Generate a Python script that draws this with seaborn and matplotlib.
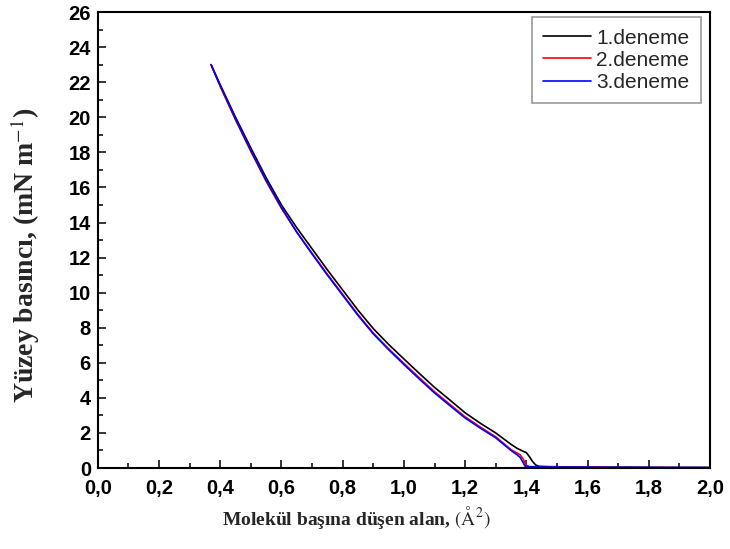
import numpy as np
import pandas as pd
import matplotlib
matplotlib.use("Agg")
import matplotlib.pyplot as plt
import seaborn as sns
from matplotlib.ticker import MultipleLocator, FixedLocator, FixedFormatter

# ---- data ----
x1 = [0.37, 0.40, 0.45, 0.50, 0.55, 0.60, 0.65, 0.70, 0.75, 0.80, 0.85, 0.90, 0.95,
      1.00, 1.05, 1.10, 1.15, 1.20, 1.25, 1.30, 1.35, 1.37, 1.39, 1.40, 1.41, 1.42,
      1.43, 1.44, 1.47, 1.55, 1.65, 1.75, 1.85, 1.95, 2.00]
y1 = [23.0, 21.85, 20.0, 18.25, 16.55, 15.0, 13.7, 12.5, 11.3, 10.15, 9.0, 7.95, 7.05,
      6.22, 5.4, 4.6, 3.88, 3.15, 2.55, 2.0, 1.35, 1.12, 0.95, 0.88, 0.65, 0.38,
      0.18, 0.10, 0.08, 0.06, 0.05, 0.04, 0.03, 0.03, 0.02]

x2 = [0.37, 0.40, 0.45, 0.50, 0.55, 0.60, 0.65, 0.70, 0.75, 0.80, 0.85, 0.90, 0.95,
      1.00, 1.05, 1.10, 1.15, 1.20, 1.25, 1.30, 1.35, 1.37, 1.38, 1.39, 1.40, 1.41,
      1.45, 1.55, 1.65, 1.75, 1.85, 1.95, 2.00]
y2 = [23.0, 21.75, 19.85, 18.05, 16.35, 14.8, 13.45, 12.25, 11.05, 9.9, 8.75, 7.7, 6.8,
      5.97, 5.15, 4.35, 3.63, 2.92, 2.33, 1.78, 1.05, 0.85, 0.75, 0.5, 0.15, 0.08,
      0.06, 0.05, 0.04, 0.03, 0.03, 0.02, 0.02]

x3 = [0.37, 0.40, 0.45, 0.50, 0.55, 0.60, 0.65, 0.70, 0.75, 0.80, 0.85, 0.90, 0.95,
      1.00, 1.05, 1.10, 1.15, 1.20, 1.25, 1.30, 1.35, 1.37, 1.38, 1.39, 1.395, 1.41,
      1.45, 1.55, 1.65, 1.75, 1.85, 1.95, 2.00]
y3 = [23.0, 21.8, 19.9, 18.1, 16.4, 14.85, 13.45, 12.2, 11.0, 9.85, 8.7, 7.65, 6.75,
      5.9, 5.08, 4.28, 3.56, 2.85, 2.27, 1.72, 1.0, 0.75, 0.6, 0.3, 0.12, 0.07,
      0.06, 0.05, 0.04, 0.04, 0.03, 0.03, 0.03]

series_names = ["1.deneme", "2.deneme", "3.deneme"]
series_colors = ["#000000", "#ff0000", "#0000ff"]

xtick_vals = [0.0, 0.2, 0.4, 0.6, 0.8, 1.0, 1.2, 1.4, 1.6, 1.8, 2.0]
xtick_labels = ["0,0", "0,2", "0,4", "0,6", "0,8", "1,0", "1,2", "1,4", "1,6", "1,8", "2,0"]
ytick_vals = list(range(0, 27, 2))
ytick_labels = [str(v) for v in ytick_vals]

df = pd.concat([
    pd.DataFrame({"x": x1, "y": y1, "run": series_names[0]}),
    pd.DataFrame({"x": x2, "y": y2, "run": series_names[1]}),
    pd.DataFrame({"x": x3, "y": y3, "run": series_names[2]}),
], ignore_index=True)

# ---- style ----
sns.set_style("ticks")
plt.rcParams["font.family"] = ["Liberation Sans", "DejaVu Sans"]
plt.rcParams["mathtext.fontset"] = "stix"

fig = plt.figure(figsize=(7.30, 5.49), dpi=100)
ax = fig.add_axes([0.134, 0.1475, 0.8386, 0.8305])

sns.lineplot(data=df, x="x", y="y", hue="run", palette=series_colors,
             hue_order=series_names, sort=False, estimator=None,
             linewidth=1.2, ax=ax)

ax.set_xlim(0, 2.0)
ax.set_ylim(0, 26)

ax.xaxis.set_major_locator(FixedLocator(xtick_vals))
ax.xaxis.set_major_formatter(FixedFormatter(xtick_labels))
ax.xaxis.set_minor_locator(MultipleLocator(0.1))
ax.yaxis.set_major_locator(FixedLocator(ytick_vals))
ax.yaxis.set_major_formatter(FixedFormatter(ytick_labels))
ax.yaxis.set_minor_locator(MultipleLocator(1))

ax.tick_params(which="both", direction="in", width=1.1, colors="black")
ax.tick_params(which="major", length=6, labelsize=14.5)
ax.tick_params(axis="x", which="major", pad=8)
ax.tick_params(axis="y", which="major", pad=5)
ax.tick_params(which="minor", length=3.5)
for lab in ax.get_xticklabels() + ax.get_yticklabels():
    lab.set_fontweight("bold")

for sp in ax.spines.values():
    sp.set_visible(True)
    sp.set_linewidth(1.5)
    sp.set_color("black")

ax.set_xlabel("Molekül başına düşen alan, $(\\mathrm{\\AA}^{2})$",
              family=["Liberation Serif", "DejaVu Serif"], fontweight="bold",
              fontsize=14)
ax.xaxis.set_label_coords(0.4225, -0.078)
ax.set_ylabel("Yüzey basıncı, (mN m$^{-1}$)",
              family=["Liberation Serif", "DejaVu Serif"], fontweight="bold",
              fontsize=20)
ax.yaxis.set_label_coords(-0.091, 0.467)

leg = ax.legend(loc="upper right", bbox_to_anchor=(0.985, 0.989), fontsize=15,
                frameon=True, fancybox=False, edgecolor="#808080",
                handlelength=2.3, borderpad=0.55, labelspacing=0.15,
                handletextpad=0.25, borderaxespad=0.0)
leg.get_frame().set_linewidth(1.2)
leg.set_title(None)

fig.savefig("out.png", dpi=100)
